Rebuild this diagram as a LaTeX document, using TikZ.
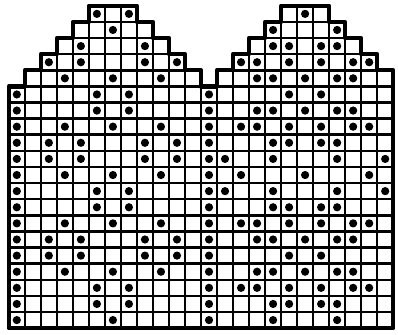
\documentclass[tikz,border=0pt]{standalone}
\begin{document}
\begin{tikzpicture}[x=16pt,y=-16.1pt,
  cell/.style={line width=2.5pt,draw=black},
  outline/.style={line width=4.4pt,draw=black,line join=round,line cap=round},
  stitchdot/.style={fill=black}]
\useasboundingbox (-0.55,-0.36) rectangle (24.3,20.38);
% top rows of both mittens
\foreach \r/\a/\b in {0/5/7,1/4/8,2/3/9,3/2/10,4/1/11}{
  \foreach \c in {\a,...,\b}{
    \draw[cell] (\c,\r) rectangle ++(1,1);
    \draw[cell] (\c+12,\r) rectangle ++(1,1);
  }
}
% full rows
\foreach \r in {5,...,19}{
  \foreach \c in {0,...,23}{
    \draw[cell] (\c,\r) rectangle ++(1,1);
  }
}
% dots
\foreach \r/\cs in {
 0/{5,7,18},
 1/{6,16,20},
 2/{4,8,16,17,19,20},
 3/{2,4,8,10,14,15,17,19,21,22},
 4/{3,6,9,15,16,18,20,21},
 5/{0,5,7,12,17,19},
 6/{0,5,7,12,15,16,18,20,21},
 7/{0,3,6,9,12,14,15,17,19,21,22},
 8/{0,2,4,8,10,12,16,17,19,20},
 9/{0,2,4,8,10,12,13,16,20,23},
 10/{0,3,6,9,12,14,18,22},
 11/{0,5,7,12,13,16,20,23},
 12/{0,5,7,12,16,17,19,20},
 13/{0,3,6,9,12,14,15,17,19,21,22},
 14/{0,2,4,8,10,12,15,16,18,20,21},
 15/{0,2,4,8,10,12,17,19},
 16/{0,3,6,9,12,15,16,18,20,21},
 17/{0,5,7,12,14,15,17,19,21,22},
 18/{0,5,7,12,16,17,19,20},
 19/{0,6,12,16,20}}{
  \foreach \c in \cs{
    \fill[stitchdot] (\c+0.5,\r+0.5) circle (4.1pt);
  }
}
% outline
\draw[outline] (0,20) -- (0,5) -- (1,5) -- (1,4) -- (2,4) -- (2,3) -- (3,3) -- (3,2)
  -- (4,2) -- (4,1) -- (5,1) -- (5,0) -- (8,0) -- (8,1) -- (9,1) -- (9,2) -- (10,2)
  -- (10,3) -- (11,3) -- (11,4) -- (12,4) -- (12,5) -- (13,5) -- (13,4) -- (14,4)
  -- (14,3) -- (15,3) -- (15,2) -- (16,2) -- (16,1) -- (17,1) -- (17,0) -- (20,0)
  -- (20,1) -- (21,1) -- (21,2) -- (22,2) -- (22,3) -- (23,3) -- (23,4) -- (24,4)
  -- (24,20) -- cycle;
\end{tikzpicture}
\end{document}
